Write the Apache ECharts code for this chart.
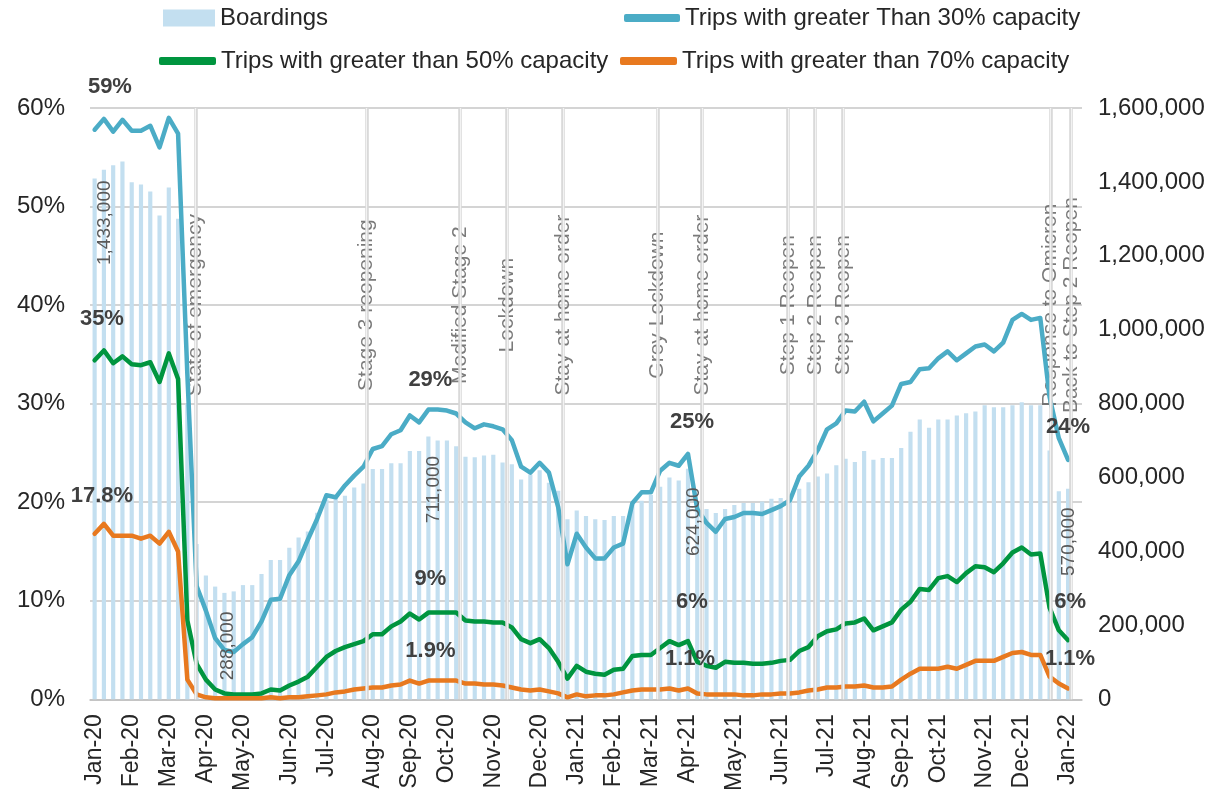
<!DOCTYPE html>
<html>
<head>
<meta charset="utf-8">
<script src="https://cdn.jsdelivr.net/npm/echarts@6/dist/echarts.min.js"></script>
<style>
  html, body { margin: 0; padding: 0; background: #fff; }
  #main { width: 1213px; height: 794px; }
</style>
</head>
<body>
<div id="main"></div>
<script>
// weekly data, Jan 2020 - Jan 2022
const weekCount = 107;
const monthLabels = ["Jan-20", "Feb-20", "Mar-20", "Apr-20", "May-20", "Jun-20", "Jul-20", "Aug-20", "Sep-20", "Oct-20", "Nov-20", "Dec-20",
  "Jan-21", "Feb-21", "Mar-21", "Apr-21", "May-21", "Jun-21", "Jul-21", "Aug-21", "Sep-21", "Oct-21", "Nov-21", "Dec-21", "Jan-22"];
const monthWeek = [0, 4, 8, 12, 16, 21, 25, 30, 34, 38, 43, 48, 52, 56, 60, 64, 69, 74, 79, 83, 87, 91, 96, 100, 105];

const boardings = [
  1409000, 1433000, 1445000, 1455000, 1399000, 1393000, 1374000, 1309000, 1385000, 1300000,
  800000, 420000, 335000, 305000, 288000, 292000, 309000, 309000, 339000, 377000,
  377000, 410000, 438000, 454000, 505000, 540000, 546000, 551000, 573000, 584000,
  623000, 623000, 639000, 639000, 672000, 672000, 711000, 700000, 700000, 685000,
  656000, 655000, 660000, 662000, 641000, 636000, 595000, 608000, 620000, 586000,
  564000, 487000, 511000, 496000, 487000, 485000, 496000, 496000, 531000, 537000,
  553000, 575000, 600000, 592000, 624000, 531000, 515000, 504000, 515000, 526000,
  531000, 531000, 535000, 543000, 545000, 555000, 570000, 587000, 603000, 611000,
  633000, 651000, 642000, 672000, 648000, 653000, 653000, 680000, 724000, 757000,
  735000, 757000, 757000, 768000, 774000, 779000, 796000, 790000, 790000, 796000,
  804000, 796000, 796000, 673000, 563000, 570000
];
const over30 = [
  57.8, 58.9, 57.6, 58.8, 57.7, 57.7, 58.2, 56.0, 59.0, 57.4,
  33.0, 11.5, 9.0, 6.2, 5.0, 4.8, 5.6, 6.3, 7.9, 10.1,
  10.2, 12.6, 14.0, 16.2, 18.3, 20.7, 20.5, 21.7, 22.7, 23.6,
  25.4, 25.7, 26.9, 27.3, 28.8, 28.1, 29.4, 29.4, 29.3, 29.0,
  28.1, 27.5, 27.9, 27.7, 27.4, 26.3, 23.6, 23.0, 24.0, 23.0,
  19.5, 13.7, 16.8, 15.4, 14.3, 14.3, 15.4, 15.8, 19.9, 21.0,
  21.0, 23.2, 24.0, 23.7, 24.9, 19.3, 17.9, 17.0, 18.3, 18.5,
  18.9, 18.9, 18.8, 19.2, 19.6, 20.2, 22.6, 23.7, 25.3, 27.4,
  28.0, 29.3, 29.2, 30.2, 28.2, 29.0, 29.8, 32.0, 32.2, 33.5,
  33.6, 34.6, 35.3, 34.4, 35.1, 35.8, 36.0, 35.3, 36.2, 38.5,
  39.1, 38.5, 38.7, 30.7, 26.5, 24.3
];
const over50 = [
  34.4, 35.4, 34.1, 34.8, 34.0, 33.9, 34.2, 32.2, 35.1, 32.5,
  8.0, 3.6, 2.0, 1.0, 0.6, 0.5, 0.5, 0.5, 0.6, 1.0,
  0.9, 1.4, 1.8, 2.3, 3.3, 4.3, 4.9, 5.3, 5.6, 5.9,
  6.6, 6.6, 7.4, 7.9, 8.7, 8.1, 8.8, 8.8, 8.8, 8.8,
  8.0, 7.9, 7.9, 7.8, 7.8, 7.3, 6.1, 5.7, 6.1, 5.2,
  3.8, 2.1, 3.4, 2.8, 2.6, 2.5, 3.0, 3.1, 4.4, 4.5,
  4.5, 5.2, 5.9, 5.5, 5.9, 3.8, 3.4, 3.2, 3.8, 3.7,
  3.7, 3.6, 3.6, 3.7, 3.9, 4.0, 4.9, 5.3, 6.4, 6.9,
  7.1, 7.7, 7.8, 8.2, 7.0, 7.4, 7.8, 9.1, 9.9, 11.2,
  11.1, 12.3, 12.5, 11.9, 12.8, 13.5, 13.4, 12.9, 13.8, 14.9,
  15.4, 14.7, 14.8, 9.3, 7.0, 6.0
];
const over70 = [
  16.8, 17.8, 16.6, 16.6, 16.6, 16.3, 16.6, 15.8, 17.0, 15.0,
  2.0, 0.5, 0.2, 0.1, 0.1, 0.1, 0.1, 0.1, 0.1, 0.2,
  0.1, 0.2, 0.2, 0.3, 0.4, 0.5, 0.7, 0.8, 1.0, 1.1,
  1.2, 1.2, 1.4, 1.5, 1.9, 1.6, 1.9, 1.9, 1.9, 1.9,
  1.6, 1.6, 1.5, 1.5, 1.4, 1.2, 1.0, 0.9, 1.0, 0.8,
  0.6, 0.2, 0.5, 0.3, 0.4, 0.4, 0.5, 0.7, 0.9, 1.0,
  1.0, 1.0, 1.1, 0.9, 1.1, 0.6, 0.5, 0.5, 0.5, 0.5,
  0.4, 0.4, 0.5, 0.5, 0.6, 0.6, 0.7, 0.9, 1.0, 1.2,
  1.2, 1.3, 1.3, 1.4, 1.2, 1.2, 1.3, 2.0, 2.6, 3.1,
  3.1, 3.1, 3.3, 3.1, 3.5, 3.9, 3.9, 3.9, 4.3, 4.7,
  4.8, 4.5, 4.5, 2.3, 1.6, 1.1
];

const eventNames = ["State of emergency", "Stage 3 reopening", "Modified Stage 2", "Lockdown", "Stay-at-home order", "Grey-Lockdown",
  "Stay-at-home order", "Step 1 Reopen", "Step 2 Reopen", "Step 3 Reopen", "Response to Omicron", "Back to Step 2 Reopen"];
const eventWeek = [10.9, 29.3, 39.4, 44.5, 50.5, 60.7, 65.5, 74.8, 77.7, 80.7, 103.1, 105.3];

// [week, label]
const boardingNotes = [[1, "1,433,000"], [14, "288,000"], [36, "711,000"], [64, "624,000"], [105, "570,000"]];
const over30Notes = [[1, "59%"], [36, "29%"], [64, "25%"], [105, "24%"]];
const over50Notes = [[1, "35%"], [36, "9%"], [64, "6%"], [105, "6%"]];
const over70Notes = [[1, "17.8%"], [36, "1.9%"], [64, "1.1%"], [105, "1.1%"]];

const categories = Array.from({ length: weekCount }, () => "");
monthWeek.forEach((w, i) => { categories[w] = monthLabels[i]; });

const FONT = "'Liberation Sans', Arial, sans-serif";
const BLUE = "#4bacc6", GREEN = "#00953f", ORANGE = "#e8791f", BAR = "#c3dff0";

// pixel offsets of the bold notes from their points
const noteShift = {
  over30: [[6, -32], [2, -30], [4, -32], [0, -33]],
  over50: [[-2, -31], [2, -34], [4, -39], [2, -38]],
  over70: [[-2, -28], [2, -30], [2, -30], [2, -30]],
};
const barNoteShift = [1, 3, 5, 6, 1];

const chart = echarts.init(document.getElementById("main"));

const notePoints = (notes, values, shifts) => ({
  symbol: "rect",
  symbolSize: 1,
  itemStyle: { color: "rgba(0,0,0,0)" },
  label: {
    show: true, position: "inside", formatter: "{b}",
    fontFamily: FONT, fontSize: 22, fontWeight: "bold", color: "#404040",
  },
  data: notes.map(([w, t], k) => ({
    name: t, coord: [w, values[w]], label: { offset: shifts[k] },
  })),
});

const lineSeries = (name, values, color, notes, shifts) => ({
  name, type: "line", data: values, yAxisIndex: 0, z: 4,
  showSymbol: false, symbol: "none",
  lineStyle: { color, width: 4.5, cap: "round", join: "round" },
  itemStyle: { color },
  markPoint: notePoints(notes, values, shifts),
});

const legendText = { fontFamily: FONT, fontSize: 24, color: "#262626" };
const legendItem = (name, left, top, icon, w, h) => ({
  data: [name], left, top, icon, itemWidth: w, itemHeight: h,
  textStyle: legendText, itemGap: 0, padding: 0, selectedMode: false,
});

const option = {
  animation: false,
  legend: [
    legendItem("Boardings", 163, 6, "rect", 52, 17),
    legendItem("Trips with greater Than 30% capacity", 624, 6, "roundRect", 56, 8),
    legendItem("Trips with greater than 50% capacity", 159, 49, "roundRect", 57, 8),
    legendItem("Trips with greater than 70% capacity", 620, 49, "roundRect", 57, 8),
  ],
  grid: { left: 90, right: 131, top: 108, bottom: 93 },
  xAxis: [
    {
      type: "category", data: categories, boundaryGap: true,
      axisTick: { show: false },
      axisLine: { lineStyle: { color: "#bfbfbf", width: 1.5 } },
      axisLabel: {
        interval: 0, rotate: 90, margin: 15,
        fontFamily: FONT, fontSize: 23, color: "#262626",
      },
    },
    { type: "value", min: -0.5, max: weekCount - 0.5, show: false },
  ],
  yAxis: [
    {
      type: "value", min: 0, max: 60, interval: 10,
      axisLine: { show: false }, axisTick: { show: false },
      splitLine: { lineStyle: { color: "#c6c6c6", width: 1.5 } },
      axisLabel: { formatter: "{value}%", margin: 25, fontFamily: FONT, fontSize: 24, color: "#262626" },
    },
    {
      type: "value", min: 0, max: 1600000, interval: 200000, position: "right",
      axisLine: { show: false }, axisTick: { show: false }, splitLine: { show: false },
      axisLabel: {
        formatter: (v) => v.toLocaleString("en-US"), margin: 16,
        fontFamily: FONT, fontSize: 24, color: "#262626",
      },
    },
  ],
  series: [
    {
      name: "Boardings", type: "bar", data: boardings, yAxisIndex: 1, z: 1,
      barWidth: "45%", itemStyle: { color: BAR },
      markPoint: {
        symbol: "rect", symbolSize: 1, itemStyle: { color: "rgba(0,0,0,0)" },
        label: {
          show: true, position: "inside", rotate: 90, formatter: "{b}",
          fontFamily: FONT, fontSize: 19, color: "#595959",
        },
        data: boardingNotes.map(([w, t], k) => ({
          name: t, coord: [w, boardings[w]], label: { offset: [-53, barNoteShift[k]] },
        })),
      },
    },
    {
      type: "line", xAxisIndex: 1, yAxisIndex: 0, data: [], z: 2, silent: true,
      markLine: {
        symbol: "none", silent: true, label: { show: false },
        lineStyle: { color: "#d6d6d6", width: 3.5, type: "solid" },
        data: eventWeek.map((w) => ({ xAxis: w })),
      },
    },
    {
      type: "line", xAxisIndex: 1, yAxisIndex: 0, data: [], z: 2, silent: true,
      markLine: {
        symbol: "none", silent: true, label: { show: false },
        lineStyle: { color: "#f2f2f2", width: 1.2, type: "solid" },
        data: eventWeek.map((w) => ({ xAxis: w })),
      },
    },
    {
      type: "scatter", xAxisIndex: 1, yAxisIndex: 0, z: 3, symbolSize: 0, silent: true,
      data: eventWeek.map((w, i) => ({ name: eventNames[i], value: [w, 40] })),
      label: {
        show: true, position: "inside", rotate: 90, formatter: "{b}",
        fontFamily: FONT, fontSize: 21, color: "#595959",
      },
    },
    lineSeries("Trips with greater Than 30% capacity", over30, BLUE, over30Notes, noteShift.over30),
    lineSeries("Trips with greater than 50% capacity", over50, GREEN, over50Notes, noteShift.over50),
    lineSeries("Trips with greater than 70% capacity", over70, ORANGE, over70Notes, noteShift.over70),
  ],
};

chart.setOption(option);
</script>
</body>
</html>
